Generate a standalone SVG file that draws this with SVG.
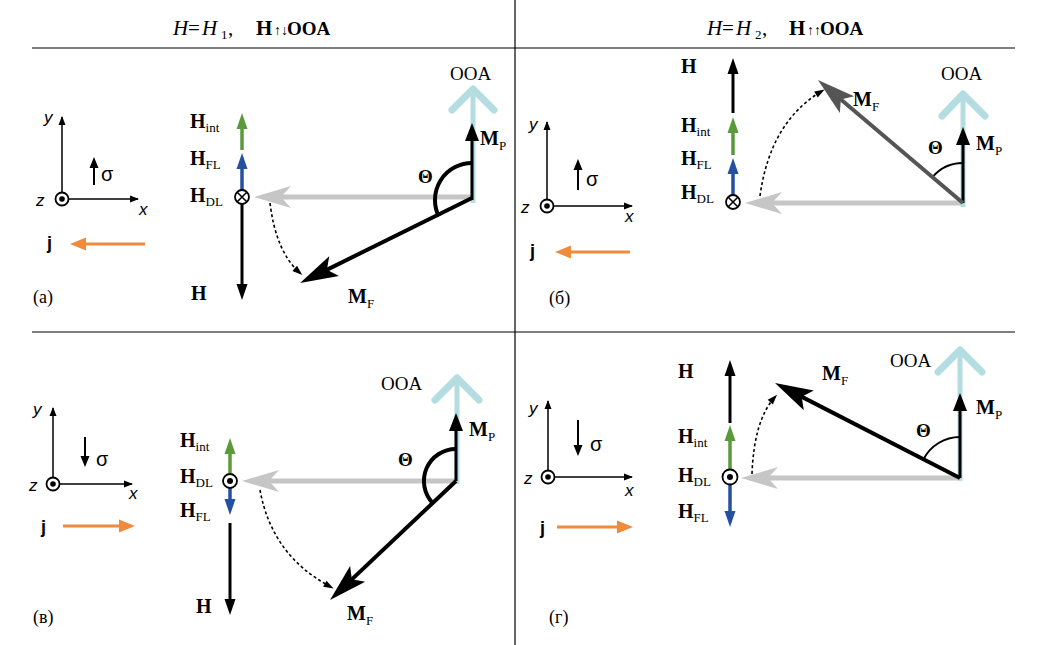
<svg xmlns="http://www.w3.org/2000/svg" width="1040" height="645" viewBox="0 0 1040 645">
<style>
.frame{stroke:#000;stroke-width:1.2;fill:none}
.lb{font-family:"Liberation Serif",serif;font-weight:bold;font-size:20px;fill:#000}
.sub{font-weight:normal;font-size:13px}
.ooa{font-family:"Liberation Serif",serif;font-size:19px;fill:#000}
.hd{font-family:"Liberation Serif",serif;font-size:21px;fill:#000}
.hi{font-style:italic}
.hbd{font-weight:bold}
.har{font-size:14px}
.ax{font-family:"Liberation Sans",sans-serif;font-size:17px;font-style:italic;fill:#000}
.sg{font-family:"Liberation Sans",sans-serif;font-size:20px;fill:#000}
.jj{font-family:"Liberation Sans",sans-serif;font-size:18px;font-weight:bold;fill:#000}
.pl{font-family:"Liberation Serif",serif;font-size:18px;fill:#000}
.th{font-family:"Liberation Serif",serif;font-size:19px;font-weight:bold;fill:#000}
.axl{stroke:#000;stroke-width:1.5;fill:none}
.sig{stroke:#000;stroke-width:2;fill:none}
.jl{stroke:#f08a3c;stroke-width:3;fill:none}
.hk{stroke:#000;stroke-width:3;fill:none}
.hg{stroke:#5a9a3a;stroke-width:3.5;fill:none}
.hb{stroke:#2450a0;stroke-width:3.5;fill:none}
.gr{stroke:#c6c6c6;stroke-width:5;fill:none}
.oo{stroke:#b4dde2;stroke-width:5;fill:none}
.ooh{stroke:#b4dde2;stroke-width:7;fill:none;stroke-linecap:round;stroke-linejoin:round}
.mp{stroke:#000;stroke-width:3;fill:none}
.mf{stroke:#000;stroke-width:4;fill:none}
.mf2{stroke:#555;stroke-width:4;fill:none}
.arcT{stroke:#000;stroke-width:4;fill:none}
.arct{stroke:#000;stroke-width:2;fill:none}
.dot{stroke:#000;stroke-width:1.6;fill:none;stroke-dasharray:3 2.5}
.sym{stroke:#000;stroke-width:1.8;fill:#fff}
</style>
<defs>
<marker id="mAx" markerUnits="userSpaceOnUse" viewBox="-10 -5 12 10" markerWidth="12" markerHeight="10" refX="0" refY="0" orient="auto"><path d="M1,0 L-8,-3.5 L-8,3.5 Z" fill="#000"/></marker>
<marker id="mSg" markerUnits="userSpaceOnUse" viewBox="-12 -6 16 12" markerWidth="16" markerHeight="12" refX="0" refY="0" orient="auto"><path d="M3,0 L-8,-4.5 L-8,4.5 Z" fill="#000"/></marker>
<marker id="mJ" markerUnits="userSpaceOnUse" viewBox="-14 -8 24 16" markerWidth="24" markerHeight="16" refX="0" refY="0" orient="auto"><path d="M8,0 L-8,-6.5 L-8,6.5 Z" fill="#f08a3c"/></marker>
<marker id="mK" markerUnits="userSpaceOnUse" viewBox="-12 -7 22 14" markerWidth="22" markerHeight="14" refX="0" refY="0" orient="auto"><path d="M8,0 L-8,-5.5 L-8,5.5 Z" fill="#000"/></marker>
<marker id="mG" markerUnits="userSpaceOnUse" viewBox="-12 -7 22 14" markerWidth="22" markerHeight="14" refX="0" refY="0" orient="auto"><path d="M8,0 L-8,-5.5 L-8,5.5 Z" fill="#5a9a3a"/></marker>
<marker id="mB" markerUnits="userSpaceOnUse" viewBox="-12 -7 22 14" markerWidth="22" markerHeight="14" refX="0" refY="0" orient="auto"><path d="M8,0 L-8,-5.5 L-8,5.5 Z" fill="#2450a0"/></marker>
<marker id="mP" markerUnits="userSpaceOnUse" viewBox="-14 -8 26 16" markerWidth="26" markerHeight="16" refX="0" refY="0" orient="auto"><path d="M8,0 L-10,-7 L-10,7 Z" fill="#000"/></marker>
<marker id="mGr" markerUnits="userSpaceOnUse" viewBox="-32 -12 44 24" markerWidth="44" markerHeight="24" refX="0" refY="0" orient="auto"><path d="M9,0 L-28,-11 L-18,0 L-28,11 Z" fill="#c6c6c6"/></marker>
<marker id="mF" markerUnits="userSpaceOnUse" viewBox="-32 -13 46 26" markerWidth="46" markerHeight="26" refX="0" refY="0" orient="auto"><path d="M10,0 L-28,-11 L-20,0 L-28,11 Z" fill="#000"/></marker>
<marker id="mF2" markerUnits="userSpaceOnUse" viewBox="-32 -13 46 26" markerWidth="46" markerHeight="26" refX="0" refY="0" orient="auto"><path d="M10,0 L-28,-11 L-20,0 L-28,11 Z" fill="#555"/></marker>
<marker id="mD" markerUnits="userSpaceOnUse" viewBox="-10 -5 14 10" markerWidth="14" markerHeight="10" refX="0" refY="0" orient="auto"><path d="M3,0 L-7,-3.5 L-7,3.5 Z" fill="#000"/></marker>
</defs>

<g id="frame">
<line class="frame" x1="32" y1="48" x2="1015" y2="48"/>
<line class="frame" x1="32" y1="332" x2="1015" y2="332"/>
<line class="frame" x1="515" y1="0" x2="515" y2="645"/>
<text class="hd" y="35"><tspan class="hi" x="173">H</tspan><tspan x="188">=</tspan><tspan class="hi" x="202">H</tspan><tspan font-size="13" x="221" dy="4">1</tspan><tspan x="228" dy="-4">,</tspan><tspan class="hbd" x="256">H</tspan><tspan class="har" x="274">↑↓</tspan><tspan class="hbd" font-size="19" x="287">OOA</tspan></text>
<text class="hd" y="35"><tspan class="hi" x="707">H</tspan><tspan x="722">=</tspan><tspan class="hi" x="736">H</tspan><tspan font-size="13" x="755" dy="4">2</tspan><tspan x="762" dy="-4">,</tspan><tspan class="hbd" x="789">H</tspan><tspan class="har" x="807">↑↑</tspan><tspan class="hbd" font-size="19" x="820">OOA</tspan></text>
</g>

<!-- Panel a -->
<g id="panel-a">
<g id="axes-a">
<line class="axl" x1="62" y1="199" x2="62" y2="117" marker-end="url(#mAx)"/>
<line class="axl" x1="69" y1="199" x2="138" y2="199" marker-end="url(#mAx)"/>
<circle class="sym" cx="62" cy="199" r="6.5"/><circle cx="62" cy="199" r="2.8" fill="#000"/>
<text class="ax" x="44" y="123">y</text>
<text class="ax" x="36" y="206">z</text>
<text class="ax" x="139" y="215">x</text>
<line class="sig" x1="94" y1="185" x2="94" y2="160" marker-end="url(#mSg)"/>
<text class="sg" x="101" y="181">σ</text>
<text class="jj" x="47" y="249">j</text>
<line class="jl" x1="145" y1="244" x2="78" y2="244" marker-end="url(#mJ)"/>
<text class="pl" x="33" y="303">(а)</text>
</g>
<g id="H-a">
<line class="hg" x1="242" y1="150" x2="242" y2="121" marker-end="url(#mG)"/>
<line class="hb" x1="242" y1="190" x2="242" y2="161" marker-end="url(#mB)"/>
<line class="hk" x1="242" y1="204" x2="242" y2="292" marker-end="url(#mK)"/>
<circle class="sym" cx="242" cy="197" r="7"/>
<path d="M237,192 L247,202 M247,192 L237,202" stroke="#000" stroke-width="1.6"/>
<text class="lb" x="190" y="128">H<tspan class="sub" dy="4">int</tspan></text>
<text class="lb" x="190" y="165">H<tspan class="sub" dy="4">FL</tspan></text>
<text class="lb" x="190" y="202">H<tspan class="sub" dy="4">DL</tspan></text>
<text class="lb" x="191" y="300">H</text>
</g>
<g id="vec-a">
<line class="gr" x1="472" y1="197" x2="263" y2="197" marker-end="url(#mGr)"/>
<line class="oo" x1="473" y1="203" x2="473" y2="92"/>
<path class="ooh" d="M452,110 L473,89 L494,110"/>
<text class="ooa" x="450" y="80">OOA</text>
<line class="mp" x1="472" y1="200" x2="472" y2="131" marker-end="url(#mP)"/>
<text class="lb" x="480" y="145">M<tspan class="sub" dy="5">P</tspan></text>
<path class="arcT" d="M472,163 A37,37 0 0,0 438.8,216.4"/>
<text class="th" x="418" y="183">Θ</text>
<line class="mf" x1="472" y1="198" x2="309" y2="278.6" marker-end="url(#mF)"/>
<text class="lb" x="348" y="303">M<tspan class="sub" dy="5">F</tspan></text>
<path class="dot" d="M270,203 Q276,252 300,273" marker-end="url(#mD)"/>
</g>
</g>

<!-- Panel b -->
<g id="panel-b">
<g id="axes-b">
<line class="axl" x1="547" y1="206" x2="547" y2="122" marker-end="url(#mAx)"/>
<line class="axl" x1="554" y1="206" x2="632" y2="206" marker-end="url(#mAx)"/>
<circle class="sym" cx="547" cy="206" r="6.5"/><circle cx="547" cy="206" r="2.8" fill="#000"/>
<text class="ax" x="529" y="130">y</text>
<text class="ax" x="521" y="213">z</text>
<text class="ax" x="625" y="222">x</text>
<line class="sig" x1="578" y1="190" x2="578" y2="162" marker-end="url(#mSg)"/>
<text class="sg" x="586" y="186">σ</text>
<text class="jj" x="530" y="257">j</text>
<line class="jl" x1="630" y1="252" x2="563" y2="252" marker-end="url(#mJ)"/>
<text class="pl" x="549" y="304">(б)</text>
</g>
<g id="H-b">
<line class="hk" x1="733" y1="113" x2="733" y2="66" marker-end="url(#mK)"/>
<line class="hg" x1="733" y1="155" x2="733" y2="125" marker-end="url(#mG)"/>
<line class="hb" x1="733" y1="195" x2="733" y2="166" marker-end="url(#mB)"/>
<circle class="sym" cx="733" cy="202" r="7"/>
<path d="M728,197 L738,207 M738,197 L728,207" stroke="#000" stroke-width="1.6"/>
<text class="lb" x="681" y="73">H</text>
<text class="lb" x="681" y="132">H<tspan class="sub" dy="4">int</tspan></text>
<text class="lb" x="681" y="165">H<tspan class="sub" dy="4">FL</tspan></text>
<text class="lb" x="681" y="199">H<tspan class="sub" dy="4">DL</tspan></text>
</g>
<g id="vec-b">
<line class="gr" x1="963" y1="203" x2="754" y2="203" marker-end="url(#mGr)"/>
<line class="oo" x1="963" y1="207" x2="963" y2="95"/>
<path class="ooh" d="M942,116 L963,94 L985,116"/>
<text class="ooa" x="941" y="80">OOA</text>
<line class="mp" x1="963" y1="203" x2="963" y2="135" marker-end="url(#mP)"/>
<text class="lb" x="976" y="150">M<tspan class="sub" dy="5">P</tspan></text>
<path class="arct" d="M963,163 A40,40 0 0,0 932.5,177.1"/>
<text class="th" x="928" y="154">Θ</text>
<line class="mf2" x1="963" y1="203" x2="825.6" y2="86.5" marker-end="url(#mF2)"/>
<text class="lb" x="853" y="106">M<tspan class="sub" dy="5">F</tspan></text>
<path class="dot" d="M760,196 Q770,122 822,91" marker-end="url(#mD)"/>
</g>
</g>

<!-- Panel c -->
<g id="panel-c">
<g id="axes-c">
<line class="axl" x1="53" y1="484" x2="53" y2="408" marker-end="url(#mAx)"/>
<line class="axl" x1="60" y1="484" x2="132" y2="484" marker-end="url(#mAx)"/>
<circle class="sym" cx="53" cy="484" r="6.5"/><circle cx="53" cy="484" r="2.8" fill="#000"/>
<text class="ax" x="33" y="415">y</text>
<text class="ax" x="29" y="491">z</text>
<text class="ax" x="129" y="499">x</text>
<line class="sig" x1="85" y1="437" x2="85" y2="464" marker-end="url(#mSg)"/>
<text class="sg" x="96" y="466">σ</text>
<text class="jj" x="41" y="533">j</text>
<line class="jl" x1="63" y1="526" x2="127" y2="526" marker-end="url(#mJ)"/>
<text class="pl" x="33" y="623">(в)</text>
</g>
<g id="H-c">
<line class="hg" x1="230" y1="473" x2="230" y2="446" marker-end="url(#mG)"/>
<line class="hb" x1="230" y1="488" x2="230" y2="507" marker-end="url(#mB)"/>
<line class="hk" x1="230" y1="523" x2="230" y2="607" marker-end="url(#mK)"/>
<circle class="sym" cx="230" cy="481" r="7"/><circle cx="230" cy="481" r="3" fill="#000"/>
<text class="lb" x="180" y="447">H<tspan class="sub" dy="4">int</tspan></text>
<text class="lb" x="180" y="483">H<tspan class="sub" dy="4">DL</tspan></text>
<text class="lb" x="180" y="517">H<tspan class="sub" dy="4">FL</tspan></text>
<text class="lb" x="196" y="613">H</text>
</g>
<g id="vec-c">
<line class="gr" x1="456" y1="481" x2="251" y2="481" marker-end="url(#mGr)"/>
<line class="oo" x1="457" y1="484" x2="457" y2="380"/>
<path class="ooh" d="M435,400 L457,378 L479,400"/>
<text class="ooa" x="381" y="390">OOA</text>
<line class="mp" x1="456" y1="481" x2="456" y2="421" marker-end="url(#mP)"/>
<text class="lb" x="469" y="436">M<tspan class="sub" dy="5">P</tspan></text>
<path class="arcT" d="M456,449 A32,32 0 0,0 432.7,503"/>
<text class="th" x="398" y="466">Θ</text>
<line class="mf" x1="456" y1="481" x2="337.3" y2="593.1" marker-end="url(#mF)"/>
<text class="lb" x="347" y="620">M<tspan class="sub" dy="5">F</tspan></text>
<path class="dot" d="M260,490 Q272,556 331,587" marker-end="url(#mD)"/>
</g>
</g>

<!-- Panel d -->
<g id="panel-d">
<g id="axes-d">
<line class="axl" x1="548" y1="477" x2="548" y2="401" marker-end="url(#mAx)"/>
<line class="axl" x1="555" y1="477" x2="632" y2="477" marker-end="url(#mAx)"/>
<circle class="sym" cx="548" cy="477" r="6.5"/><circle cx="548" cy="477" r="2.8" fill="#000"/>
<text class="ax" x="529" y="414">y</text>
<text class="ax" x="524" y="484">z</text>
<text class="ax" x="625" y="496">x</text>
<line class="sig" x1="578" y1="420" x2="578" y2="453" marker-end="url(#mSg)"/>
<text class="sg" x="590" y="451">σ</text>
<text class="jj" x="540" y="534">j</text>
<line class="jl" x1="557" y1="527" x2="625" y2="527" marker-end="url(#mJ)"/>
<text class="pl" x="549" y="623">(г)</text>
</g>
<g id="H-d">
<line class="hk" x1="730" y1="423" x2="730" y2="368" marker-end="url(#mK)"/>
<line class="hg" x1="730" y1="469" x2="730" y2="433" marker-end="url(#mG)"/>
<line class="hb" x1="730" y1="485" x2="730" y2="519" marker-end="url(#mB)"/>
<circle class="sym" cx="730" cy="477" r="7.5"/><circle cx="730" cy="477" r="3" fill="#000"/>
<text class="lb" x="678" y="378">H</text>
<text class="lb" x="678" y="443">H<tspan class="sub" dy="4">int</tspan></text>
<text class="lb" x="678" y="482">H<tspan class="sub" dy="4">DL</tspan></text>
<text class="lb" x="678" y="518">H<tspan class="sub" dy="4">FL</tspan></text>
</g>
<g id="vec-d">
<line class="gr" x1="960" y1="478" x2="750" y2="478" marker-end="url(#mGr)"/>
<line class="oo" x1="960" y1="481" x2="960" y2="354"/>
<path class="ooh" d="M938,372 L960,350 L982,372"/>
<text class="ooa" x="890" y="367">OOA</text>
<line class="mp" x1="960" y1="478" x2="960" y2="401" marker-end="url(#mP)"/>
<text class="lb" x="976" y="414">M<tspan class="sub" dy="5">P</tspan></text>
<path class="arct" d="M960,437 A41,41 0 0,0 923.5,459.3"/>
<text class="th" x="916" y="437">Θ</text>
<line class="mf" x1="960" y1="478" x2="783.9" y2="387.6" marker-end="url(#mF)"/>
<text class="lb" x="822" y="380">M<tspan class="sub" dy="5">F</tspan></text>
<path class="dot" d="M752,474 Q754,420 775,397" marker-end="url(#mD)"/>
</g>
</g>
</svg>
